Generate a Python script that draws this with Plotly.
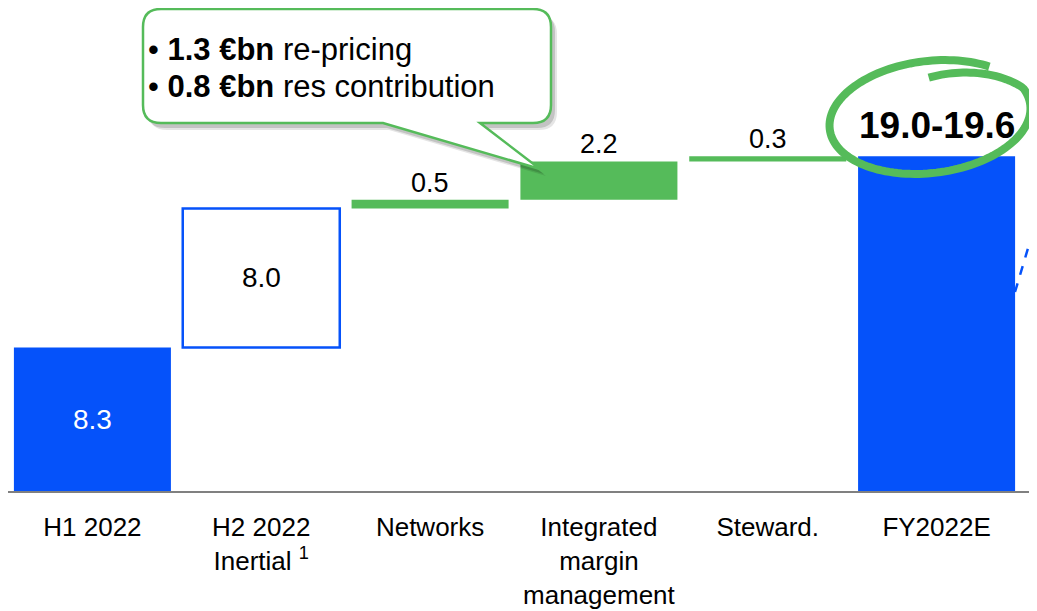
import numpy as np
import plotly.graph_objects as go

categories = ["H1 2022", "H2 2022<br>Inertial <sup>1</sup>", "Networks",
              "Integrated<br>margin<br>management", "Steward.", "FY2022E"]
values = [8.3, 8.0, 0.5, 2.2, 0.3, 19.3]
bases = [0, 8.3, 16.3, 16.8, 19.0, 0]
labels = ["8.3", "8.0", "0.5", "2.2", "0.3", "<b>19.0-19.6</b>"]
callout_lines = ["• <b>1.3 €bn</b> re-pricing", "• <b>0.8 €bn</b> res contribution"]

BLUE = "#0552FA"
GREEN = "#55BB5A"
FONT = "Liberation Sans, Arial, sans-serif"

fill = [BLUE, "white", GREEN, GREEN, GREEN, BLUE]
edge = [BLUE, BLUE, GREEN, GREEN, GREEN, BLUE]
edge_w = [0, 2.5, 0, 0, 0, 0]

fig = go.Figure(go.Bar(
    x=categories, y=values, base=bases,
    marker=dict(color=fill, line=dict(color=edge, width=edge_w)),
    hoverinfo="skip",
))

# value labels
inside = [True, True, False, False, False, False]
for i, cat in enumerate(categories):
    if inside[i]:
        fig.add_annotation(x=cat, y=bases[i] + values[i] / 2, text=labels[i],
                           showarrow=False, yanchor="middle",
                           font=dict(size=28, color="white" if i == 0 else "black", family=FONT))
    else:
        big = i == len(categories) - 1
        fig.add_annotation(x=cat, y=bases[i] + values[i], text=labels[i],
                           showarrow=False, yanchor="bottom", yshift=8 if big else 0,
                           font=dict(size=37 if big else 27, color="black", family=FONT))

# the page body adds an 8px offset, so the figure is sized to the visible area
OFF = 8
W, H = 1037 - OFF, 611 - OFF
ML, MR, MT, MB = 0, 16, 0, 119
PW, PH = W - ML - MR, H - MT - MB


def P(px, py):
    # screen pixel -> paper coords
    return (px - OFF - ML) / PW, (PH + MT - (py - OFF)) / PH


def path(points):
    s = ""
    for cmd, pts in points:
        s += cmd + " ".join("%.5f,%.5f" % P(*p) for p in pts) + " "
    return s + "Z"


# callout box with tail
L, R, T, B, r = 143, 551, 9, 123, 18
def callout(dx=0, dy=0):
    return path([
        ("M", [(L + r + dx, T + dy)]), ("L", [(R - r + dx, T + dy)]),
        ("Q", [(R + dx, T + dy), (R + dx, T + r + dy)]), ("L", [(R + dx, B - r + dy)]),
        ("Q", [(R + dx, B + dy), (R - r + dx, B + dy)]), ("L", [(480 + dx, B + dy)]),
        ("L", [(540 + dx, 169 + dy)]), ("L", [(383 + dx, B + dy)]),
        ("L", [(L + r + dx, B + dy)]), ("Q", [(L + dx, B + dy), (L + dx, B - r + dy)]),
        ("L", [(L + dx, T + r + dy)]), ("Q", [(L + dx, T + dy), (L + r + dx, T + dy)]),
    ])

shapes = [
    dict(type="path", path=callout(6, 7), xref="paper", yref="paper",
         fillcolor="rgba(0,0,0,0.10)", line=dict(width=0)),
    dict(type="path", path=callout(4, 5), xref="paper", yref="paper",
         fillcolor="rgba(0,0,0,0.15)", line=dict(width=0)),
    dict(type="path", path=callout(), xref="paper", yref="paper",
         fillcolor="white", line=dict(color=GREEN, width=2.5)),
]

# axis line
x0, y0 = P(5, 492)
x1, _ = P(1030, 492)
shapes.append(dict(type="line", xref="paper", yref="paper", x0=x0, x1=x1, y0=y0, y1=y0,
                   line=dict(color="#808080", width=2)))

# hand-drawn ellipse around the final value
cx, cy, rx, ry, phi = 930, 117, 101, 56, np.radians(-7)
t0 = -np.pi / 2 + 0.05
ts = np.linspace(t0, t0 + 2 * np.pi + 0.65, 160)
pts = []
for t in ts:
    s = 1 - 0.3 * max(0.0, 1 - (t - t0) / 1.2)
    ex, ey = rx * s * np.cos(t), ry * s * np.sin(t)
    pts.append((cx + ex * np.cos(phi) - ey * np.sin(phi), cy + ex * np.sin(phi) + ey * np.cos(phi)))
ell = "M" + " L".join("%.5f,%.5f" % P(*p) for p in pts)
shapes.append(dict(type="path", path=ell, xref="paper", yref="paper",
                   line=dict(color=GREEN, width=8)))

# dashed blue line at right edge
a = P(1015, 292)
b = P(1037, 218)
shapes.append(dict(type="line", xref="paper", yref="paper", x0=a[0], y0=a[1], x1=b[0], y1=b[1],
                   line=dict(color=BLUE, width=2.5, dash="dash")))

fig.update_layout(shapes=shapes)

for line, ly in zip(callout_lines, [49, 86]):
    lx, lyp = P(146, ly)
    fig.add_annotation(xref="paper", yref="paper", x=lx, y=lyp, xanchor="left", yanchor="middle",
                       align="left", showarrow=False, text=line,
                       font=dict(size=31, color="black", family=FONT))

fig.update_layout(
    width=W, height=H,
    margin=dict(l=ML, r=MR, t=MT, b=MB),
    plot_bgcolor="white", paper_bgcolor="white",
    bargap=0.07, showlegend=False,
    font=dict(family=FONT, color="black"),
    xaxis=dict(showline=False, ticks="", showgrid=False, ticklabelstandoff=17,
               tickfont=dict(size=26, color="black", family=FONT)),
    yaxis=dict(range=[0, PH / 17.4], visible=False, showgrid=False, zeroline=False),
)

fig.write_html("out.html")
